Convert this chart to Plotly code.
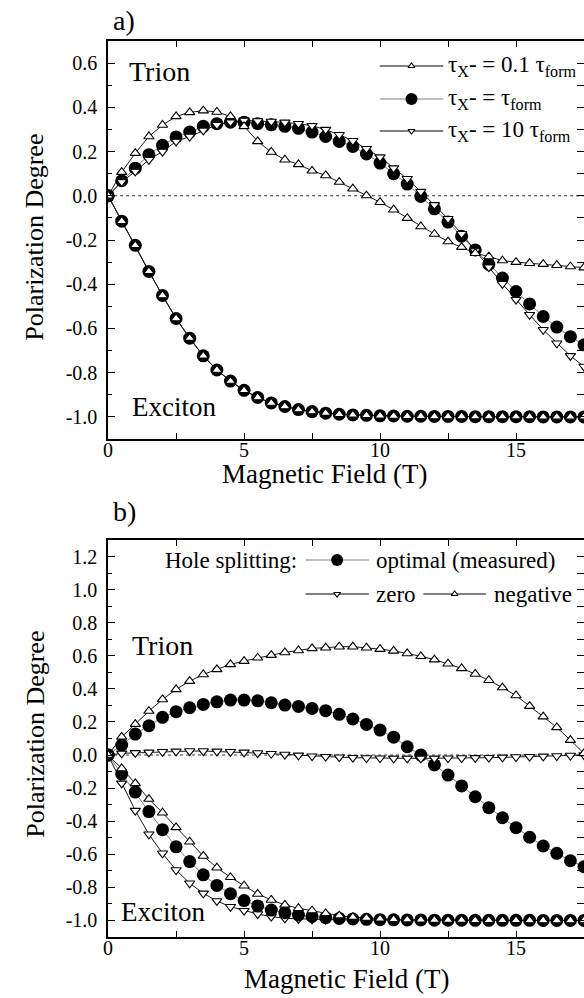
import plotly.graph_objects as go

W, H = 584, 998
FONT = "Liberation Serif, Times New Roman, serif"

# ---------------- data ----------------
field = [0.0, 0.5, 1.0, 1.5, 2.0, 2.5, 3.0, 3.5, 4.0, 4.5, 5.0, 5.5, 6.0, 6.5, 7.0, 7.5,
         8.0, 8.5, 9.0, 9.5, 10.0, 10.5, 11.0, 11.5, 12.0, 12.5, 13.0, 13.5, 14.0, 14.5,
         15.0, 15.5, 16.0, 16.5, 17.0, 17.5]

# panel a) trion
trion_a_01 = [0, 0.107, 0.193, 0.268, 0.320, 0.359, 0.377, 0.385, 0.379, 0.359, 0.314, 0.246,
              0.198, 0.163, 0.142, 0.113, 0.092, 0.062, 0.032, 0.001, -0.029, -0.063, -0.101,
              -0.139, -0.173, -0.207, -0.232, -0.260, -0.275, -0.293, -0.300, -0.305, -0.309,
              -0.314, -0.320, -0.325]
trion_a_1 = [0, 0.068, 0.125, 0.186, 0.228, 0.266, 0.288, 0.314, 0.326, 0.333, 0.333, 0.326,
             0.321, 0.314, 0.305, 0.288, 0.268, 0.246, 0.223, 0.189, 0.148, 0.100, 0.053,
             -0.003, -0.059, -0.119, -0.183, -0.245, -0.310, -0.372, -0.433, -0.489, -0.546,
             -0.594, -0.637, -0.674]
trion_a_10 = [0, 0.063, 0.110, 0.163, 0.200, 0.246, 0.268, 0.296, 0.321, 0.333, 0.341, 0.338,
              0.336, 0.332, 0.326, 0.317, 0.299, 0.276, 0.249, 0.213, 0.175, 0.125, 0.077,
              0.019, -0.041, -0.104, -0.172, -0.250, -0.323, -0.398, -0.470, -0.538, -0.606,
              -0.667, -0.724, -0.772]
# panel a) exciton (all three cases coincide)
exciton_a = [0, -0.115, -0.224, -0.342, -0.451, -0.555, -0.644, -0.724, -0.788, -0.838, -0.880,
             -0.912, -0.937, -0.953, -0.967, -0.976, -0.983, -0.988, -0.991, -0.993, -0.995,
             -0.996, -0.997, -0.997, -0.998, -0.998, -0.998, -0.999, -0.999, -0.999, -0.999,
             -0.999, -1.0, -1.0, -1.0, -1.0]

# panel b) hole splitting
trion_b_opt = [0, 0.060, 0.127, 0.177, 0.228, 0.262, 0.286, 0.306, 0.322, 0.332, 0.332, 0.328,
               0.316, 0.302, 0.294, 0.282, 0.268, 0.246, 0.218, 0.185, 0.151, 0.108, 0.050,
               0.000, -0.060, -0.121, -0.187, -0.252, -0.318, -0.379, -0.439, -0.497, -0.550,
               -0.594, -0.639, -0.675]
trion_b_zero = [0, 0.010, 0.013, 0.016, 0.020, 0.022, 0.024, 0.024, 0.022, 0.020, 0.016, 0.012,
                0.008, 0.003, -0.002, -0.007, -0.010, -0.013, -0.016, -0.018, -0.019, -0.020,
                -0.020, -0.020, -0.020, -0.019, -0.018, -0.017, -0.016, -0.014, -0.012, -0.010,
                -0.008, -0.006, -0.003, 0.000]
trion_b_neg = [0, 0.110, 0.187, 0.266, 0.336, 0.397, 0.447, 0.487, 0.518, 0.548, 0.568, 0.588,
               0.604, 0.620, 0.632, 0.645, 0.649, 0.655, 0.655, 0.649, 0.640, 0.630, 0.614,
               0.597, 0.577, 0.552, 0.524, 0.490, 0.452, 0.408, 0.360, 0.296, 0.232, 0.167,
               0.090, 0.010]
exciton_b_opt = [0, -0.115, -0.224, -0.342, -0.451, -0.555, -0.644, -0.724, -0.788, -0.838,
                 -0.880, -0.912, -0.937, -0.953, -0.967, -0.976, -0.983, -0.988, -0.991, -0.993,
                 -0.995, -0.996, -0.997, -0.997, -0.998, -0.998, -0.998, -0.999, -0.999, -0.999,
                 -0.999, -0.999, -1.0, -1.0, -1.0, -1.0]
exciton_b_zero = [0, -0.171, -0.336, -0.479, -0.594, -0.695, -0.775, -0.836, -0.882, -0.917,
                  -0.941, -0.961, -0.977, -0.987, -0.990, -0.993, -0.995, -0.996, -0.997, -0.998,
                  -0.998, -0.999, -0.999, -0.999, -0.999, -1.0, -1.0, -1.0, -1.0, -1.0, -1.0,
                  -1.0, -1.0, -1.0, -1.0, -1.0]
exciton_b_neg = [0, -0.081, -0.171, -0.266, -0.349, -0.437, -0.524, -0.610, -0.681, -0.739,
                 -0.790, -0.840, -0.876, -0.906, -0.926, -0.940, -0.957, -0.971, -0.980, -0.985,
                 -0.990, -0.993, -0.995, -0.996, -0.997, -0.998, -0.998, -0.999, -0.999, -0.999,
                 -0.999, -1.0, -1.0, -1.0, -1.0, -1.0]

x_tickvals = [0, 5, 10, 15]
x_ticktext = ["0", "5", "10", "15"]
ya_tickvals = [-1.0, -0.8, -0.6, -0.4, -0.2, 0.0, 0.2, 0.4, 0.6]
ya_ticktext = ["-1.0", "-0.8", "-0.6", "-0.4", "-0.2", "0.0", "0.2", "0.4", "0.6"]
yb_tickvals = [-1.0, -0.8, -0.6, -0.4, -0.2, 0.0, 0.2, 0.4, 0.6, 0.8, 1.0, 1.2]
yb_ticktext = ["-1.0", "-0.8", "-0.6", "-0.4", "-0.2", "0.0", "0.2", "0.4", "0.6", "0.8", "1.0", "1.2"]

legend_a_labels = ["τ<sub>X</sub>- = 0.1 τ<sub>form</sub>", "τ<sub>X</sub>- = τ<sub>form</sub>",
                   "τ<sub>X</sub>- = 10 τ<sub>form</sub>"]

# ---------------- layout helpers ----------------
def px(x):
    return x / W

def py(y):
    return 1 - y / H

X_RANGE = [0, 17.5]
YA_RANGE = [-1.1, 0.7]
YB_RANGE = [-1.1, 1.3]
XDOM = [px(104), 1.0]
YA_DOM = [py(439), py(41)]
YB_DOM = [py(937), py(540)]

TRI_SIZE = 9
CIR_SIZE = 13
LINE_BLACK = dict(color="black", width=0.9)
LINE_GRAY = dict(color="#808080", width=1)

def tri_up(size=TRI_SIZE):
    return dict(symbol="triangle-up", size=size, color="white", line=dict(color="black", width=1.1))

def tri_dn(size=TRI_SIZE):
    return dict(symbol="triangle-down", size=size, color="white", line=dict(color="black", width=1.1))

def circ(size=CIR_SIZE):
    return dict(symbol="circle", size=size, color="black", line=dict(color="black", width=0))

fig = go.Figure()

def add(y, xa, ya, marker, line):
    fig.add_trace(go.Scatter(x=field, y=y, xaxis=xa, yaxis=ya, mode="lines+markers",
                             marker=marker, line=line, showlegend=False, hoverinfo="skip"))

# panel a
add(exciton_a, "x", "y", tri_dn(), LINE_BLACK)
add(trion_a_1, "x", "y", circ(), LINE_GRAY)
add(exciton_a, "x", "y", circ(), LINE_GRAY)
add(trion_a_10, "x", "y", tri_dn(), LINE_BLACK)
add(trion_a_01, "x", "y", tri_up(), LINE_BLACK)
add(exciton_a, "x", "y", tri_up(), LINE_BLACK)

# panel b
add(exciton_b_zero, "x2", "y2", tri_dn(), LINE_BLACK)
add(trion_b_opt, "x2", "y2", circ(), LINE_GRAY)
add(exciton_b_opt, "x2", "y2", circ(), LINE_GRAY)
add(trion_b_zero, "x2", "y2", tri_dn(), LINE_BLACK)
add(trion_b_neg, "x2", "y2", tri_up(), LINE_BLACK)
add(exciton_b_neg, "x2", "y2", tri_up(), LINE_BLACK)

# dummy traces so the right-hand tick axes are drawn
fig.add_trace(go.Scatter(x=[], y=[], xaxis="x", yaxis="y3", showlegend=False))
fig.add_trace(go.Scatter(x=[], y=[], xaxis="x2", yaxis="y4", showlegend=False))

# ---------- legend keys drawn on a full-page pixel overlay ----------
def key(x0, x1, y, marker, line):
    fig.add_trace(go.Scatter(x=[x0, x1], y=[y, y], xaxis="x3", yaxis="y5", mode="lines",
                             line=line, showlegend=False, hoverinfo="skip", cliponaxis=False))
    fig.add_trace(go.Scatter(x=[(x0 + x1) / 2], y=[y], xaxis="x3", yaxis="y5", mode="markers",
                             marker=marker, showlegend=False, hoverinfo="skip", cliponaxis=False))

LEG_A_ROWS = [66, 99, 131]
key(378, 442, LEG_A_ROWS[0], tri_up(6), dict(color="black", width=1))
key(378, 442, LEG_A_ROWS[1], circ(12), dict(color="#808080", width=1.2))
key(378, 442, LEG_A_ROWS[2], tri_dn(6), dict(color="black", width=1))

key(303, 367, 560, circ(12), dict(color="#808080", width=1.2))
key(303, 367, 594, tri_dn(6), dict(color="black", width=1))
key(422, 485, 594, tri_up(6), dict(color="black", width=1))

# ---------------- axes ----------------
tickfont = dict(family=FONT, size=20, color="black")

def xaxis(anchor):
    return dict(domain=XDOM, anchor=anchor, range=X_RANGE, tickmode="array",
                tickvals=x_tickvals, ticktext=x_ticktext, ticks="inside", ticklen=6,
                tickwidth=1.2, tickcolor="black", showline=True, linewidth=1.6,
                linecolor="black", mirror="ticks", showgrid=False, zeroline=False,
                minor=dict(tickmode="linear", tick0=0, dtick=2.5, ticks="inside", ticklen=6,
                           tickwidth=1.2, tickcolor="black", showgrid=False),
                tickfont=tickfont, ticklabelstandoff=-8)

def yaxis(dom, rng, vals, text, anchor):
    return dict(domain=dom, anchor=anchor, range=rng, tickmode="array", tickvals=vals,
                ticktext=text, ticks="inside", ticklen=7, tickwidth=1.2, tickcolor="black",
                showline=True, linewidth=1.6, linecolor="black", mirror=False,
                showgrid=False, zeroline=False,
                minor=dict(tickmode="linear", tick0=0, dtick=0.1, ticks="inside", ticklen=4,
                           tickwidth=1.2, tickcolor="black", showgrid=False),
                tickfont=tickfont, ticklabelstandoff=5)

def yright(overlay, rng, anchor):
    return dict(overlaying=overlay, anchor=anchor, side="right", range=rng, tickmode="linear",
                tick0=0, dtick=0.1, ticks="inside", ticklen=7, tickwidth=1.2,
                tickcolor="black", showticklabels=False, showline=False, showgrid=False,
                zeroline=False)

fig.update_layout(
    width=W, height=H, autosize=False,
    margin=dict(l=0, r=0, t=0, b=0),
    paper_bgcolor="white", plot_bgcolor="rgba(0,0,0,0)",
    font=dict(family=FONT, color="black"),
    xaxis=xaxis("y"),
    xaxis2=xaxis("y2"),
    yaxis=yaxis(YA_DOM, YA_RANGE, ya_tickvals, ya_ticktext, "x"),
    yaxis2=yaxis(YB_DOM, YB_RANGE, yb_tickvals, yb_ticktext, "x2"),
    yaxis3=yright("y", YA_RANGE, "x"),
    yaxis4=yright("y2", YB_RANGE, "x2"),
    xaxis3=dict(domain=[0, 1], range=[0, W], visible=False, anchor="y5", fixedrange=True),
    yaxis5=dict(domain=[0, 1], range=[H, 0], visible=False, anchor="x3", fixedrange=True),
)

# zero reference dotted lines
for yref in ["y", "y2"]:
    fig.add_shape(type="line", xref="x domain" if yref == "y" else "x2 domain", x0=0, x1=1,
                  yref=yref, y0=0, y1=0, line=dict(color="black", width=0.8, dash="dot"),
                  layer="below")

def text(x, y, s, size, xanchor="left", yanchor="middle", angle=0):
    fig.add_annotation(xref="paper", yref="paper", x=px(x), y=py(y), text=s, showarrow=False,
                       xanchor=xanchor, yanchor=yanchor, textangle=angle,
                       font=dict(family=FONT, size=size, color="black"))

text(107, 21, "a)", 28)
text(107, 511, "b)", 28)
text(123, 71, "Trion", 28)
text(126, 407, "Exciton", 27)
text(126, 645, "Trion", 28)
text(115, 912, "Exciton", 27)
text(322, 474, "Magnetic Field (T)", 27, xanchor="center")
text(344, 979, "Magnetic Field (T)", 27, xanchor="center")
text(30, 237, "Polarization Degree", 26, xanchor="center", angle=-90)
text(30, 734, "Polarization Degree", 26, xanchor="center", angle=-90)

for y, lab in zip(LEG_A_ROWS, legend_a_labels):
    text(445, y, lab, 23)

text(297, 560, "Hole splitting:", 23, xanchor="right")
text(372, 560, "optimal (measured)", 23)
text(372, 594, "zero", 23)
text(491, 594, "negative", 23)

fig.write_html("out.html")
